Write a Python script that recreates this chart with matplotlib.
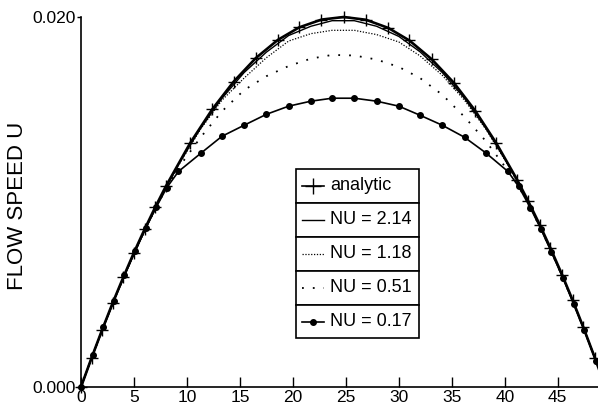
import matplotlib
matplotlib.use("Agg")
import matplotlib.pyplot as plt
from matplotlib.lines import Line2D
from matplotlib.patches import Rectangle

plt.rcParams['font.family'] = ['Liberation Sans', 'DejaVu Sans']

# ---- data ----
x_analytic = [0, 1, 2, 3, 4, 5, 6, 7, 8, 10.3, 12.4, 14.4, 16.5, 18.6, 20.6, 22.7,
              24.8, 26.9, 29.0, 31.0, 33.1, 35.2, 37.2, 39.2, 41.2, 42.2, 43.3,
              44.3, 45.4, 46.4, 47.4, 48.5, 49.5]
u_analytic = [0.0, 0.00158, 0.00310, 0.00456, 0.00594, 0.00727, 0.00852, 0.00971,
              0.01084, 0.01318, 0.01502, 0.01650, 0.01778, 0.01877, 0.01944, 0.01986,
              0.02000, 0.01985, 0.01941, 0.01873, 0.01772, 0.01644, 0.01494, 0.01318,
              0.01117, 0.01006, 0.00877, 0.00752, 0.00608, 0.00470, 0.00325, 0.00158, 0.0]

x_sim = [0, 1.1, 2.1, 3.1, 4.1, 5.1, 6.1, 7.1, 8.1, 9.2, 11.3, 13.3, 15.4, 17.5,
         19.6, 21.7, 23.7, 25.8, 27.9, 30.0, 32.0, 34.1, 36.2, 38.2, 40.3, 41.3,
         42.4, 43.4, 44.4, 45.5, 46.5, 47.5, 48.6, 49.6]

u_nu214 = [0.0, 0.00172, 0.00322, 0.00466, 0.00603, 0.00733, 0.00857, 0.00975,
           0.01087, 0.01203, 0.01400, 0.01560, 0.01700, 0.01810, 0.01900, 0.01950,
           0.01980, 0.01980, 0.01950, 0.01895, 0.01812, 0.01700, 0.01560, 0.01400,
           0.01205, 0.01100, 0.00978, 0.00860, 0.00735, 0.00591, 0.00452, 0.00308,
           0.00142, 0.0]
u_nu118 = [0.0, 0.00172, 0.00322, 0.00466, 0.00603, 0.00733, 0.00857, 0.00975,
           0.01085, 0.01198, 0.01395, 0.01550, 0.01670, 0.01780, 0.01870, 0.01910,
           0.01928, 0.01928, 0.01905, 0.01865, 0.01790, 0.01685, 0.01550, 0.01395,
           0.01200, 0.01095, 0.00975, 0.00858, 0.00733, 0.00590, 0.00452, 0.00308,
           0.00142, 0.0]
u_nu051 = [0.0, 0.00172, 0.00322, 0.00466, 0.00603, 0.00733, 0.00857, 0.00973,
           0.01080, 0.01185, 0.01350, 0.01490, 0.01605, 0.01680, 0.01735, 0.01775,
           0.01795, 0.01792, 0.01770, 0.01730, 0.01670, 0.01580, 0.01460, 0.01330,
           0.01170, 0.01085, 0.00970, 0.00855, 0.00730, 0.00588, 0.00450, 0.00307,
           0.00142, 0.0]
u_nu017 = [0.0, 0.00172, 0.00322, 0.00466, 0.00603, 0.00733, 0.00857, 0.00972,
           0.01078, 0.01165, 0.01263, 0.01355, 0.01415, 0.01474, 0.01518, 0.01545,
           0.01561, 0.01561, 0.01545, 0.01518, 0.01469, 0.01415, 0.01350, 0.01266,
           0.01165, 0.01085, 0.00970, 0.00855, 0.00730, 0.00588, 0.00450, 0.00307,
           0.00142, 0.0]

legend_labels = ['analytic', 'NU = 2.14', 'NU = 1.18', 'NU = 0.51', 'NU = 0.17']
x_ticks = [0, 5, 10, 15, 20, 25, 30, 35, 40, 45]
y_ticks = [0.000, 0.020]
y_tick_labels = ['0.000', '0.020']
y_label = 'FLOW SPEED U'

# ---- figure ----
W, H = 598, 404
fig = plt.figure(figsize=(W / 100, H / 100), dpi=100)
ax = fig.add_axes([81 / W, 17 / H, 517 / W, 370 / H])

styles = [
    dict(color='black', lw=1.9, marker='+', ms=9, mew=1.0),
    dict(color='black', lw=1.0),
    dict(color='black', lw=0.9, linestyle=(0, (1, 1.3))),
    dict(color='black', lw=1.3, linestyle=(0, (1, 5))),
    dict(color='black', lw=1.2, marker='o', ms=4),
]

ax.plot(x_analytic, u_analytic, clip_on=False, zorder=5, **styles[0])
ax.plot(x_sim, u_nu214, clip_on=False, zorder=4, **styles[1])
ax.plot(x_sim, u_nu118, clip_on=False, zorder=3, **styles[2])
ax.plot(x_sim, u_nu051, clip_on=False, zorder=3, **styles[3])
ax.plot(x_sim, u_nu017, clip_on=False, zorder=4, **styles[4])

ax.set_xlim(0, 48.8)
ax.set_ylim(0, 0.020)
ax.spines['top'].set_visible(False)
ax.spines['right'].set_visible(False)
ax.spines['left'].set_linewidth(1.2)
ax.spines['bottom'].set_linewidth(1.2)

ax.set_xticks(x_ticks)
ax.set_xticklabels([str(t) for t in x_ticks])
ax.tick_params(axis='x', direction='in', length=7, width=1, pad=2, labelsize=12.5)
ax.set_yticks(y_ticks)
ax.set_yticklabels(y_tick_labels)
ax.tick_params(axis='y', direction='out', length=3, width=1, pad=1, labelsize=12.5)
ax.set_ylabel(y_label, fontsize=16)
ax.yaxis.set_label_coords(-0.102, 0.49)

# ---- legend: stacked boxes ----
def fx(px):
    return px / W

def fy(py):
    return (H - py) / H

row_edges = [169, 203, 237, 271, 305, 338]
box_l, box_r = 296, 419
for i, lab in enumerate(legend_labels):
    top, bot = row_edges[i], row_edges[i + 1]
    rect = Rectangle((fx(box_l), fy(bot)), fx(box_r) - fx(box_l), fy(top) - fy(bot),
                     transform=fig.transFigure, fill=True, facecolor='white',
                     edgecolor='black', lw=1.2, zorder=10)
    fig.patches.append(rect)
    yc = (top + bot) / 2
    st = dict(styles[i])
    line_kw = {k: v for k, v in st.items() if k not in ('marker', 'ms', 'mew')}
    if i == 0:
        line_kw['lw'] = 1.2
    ln = Line2D([fx(302), fx(324)], [fy(yc), fy(yc)], transform=fig.transFigure,
                zorder=11, **line_kw)
    fig.lines.append(ln)
    if 'marker' in st:
        mk = Line2D([fx(313)], [fy(yc)], transform=fig.transFigure, linestyle='none',
                    marker=st['marker'], ms=st['ms'] + (2 if i == 0 else 0),
                    mew=st.get('mew', 1.0), color='black', zorder=12)
        fig.lines.append(mk)
    fig.text(fx(330), fy(yc), lab, fontsize=13, va='center', ha='left', zorder=12)

fig.savefig('out.png', dpi=100)
